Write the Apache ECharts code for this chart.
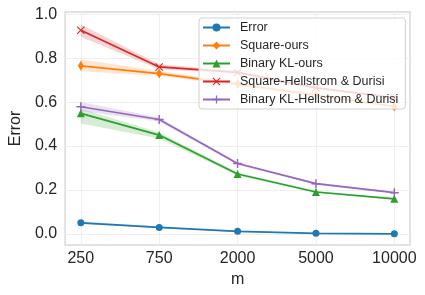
<!DOCTYPE html>
<html><head><meta charset="utf-8">
<script src="https://cdn.jsdelivr.net/npm/echarts@6/dist/echarts.min.js"></script>
<style>html,body{margin:0;padding:0;background:#fff}#c{width:425px;height:295px}</style>
</head><body><div id="c"></div>
<script>
const categories = ['250', '750', '2000', '5000', '10000'];
const yTicks = [0, 0.2, 0.4, 0.6, 0.8, 1.0];
const seriesNames = ['Error', 'Square-ours', 'Binary KL-ours', 'Square-Hellstrom & Durisi', 'Binary KL-Hellstrom & Durisi'];
const errorMean = [0.051, 0.030, 0.012, 0.003, 0.001];
const errorLow  = [0.045, 0.026, 0.009, 0.001, 0.000];
const errorHigh = [0.057, 0.034, 0.015, 0.005, 0.003];
const sqOursMean = [0.765, 0.730, 0.682, 0.632, 0.580];
const sqOursLow  = [0.741, 0.719, 0.674, 0.626, 0.575];
const sqOursHigh = [0.794, 0.742, 0.690, 0.638, 0.585];
const klOursMean = [0.549, 0.450, 0.273, 0.191, 0.160];
const klOursLow  = [0.503, 0.435, 0.266, 0.186, 0.156];
const klOursHigh = [0.570, 0.462, 0.280, 0.196, 0.164];
const sqHDMean = [0.927, 0.760, 0.735, 0.665, 0.620];
const sqHDLow  = [0.897, 0.750, 0.728, 0.660, 0.615];
const sqHDHigh = [0.953, 0.772, 0.742, 0.670, 0.625];
const klHDMean = [0.579, 0.521, 0.321, 0.229, 0.188];
const klHDLow  = [0.560, 0.512, 0.315, 0.224, 0.184];
const klHDHigh = [0.601, 0.530, 0.327, 0.234, 0.192];

const colors = ['#1f77b4', '#ff7f0e', '#2ca02c', '#d62728', '#9467bd'];
const X_PATH = 'path://M0,1L1,0L5,4L9,0L10,1L6,5L10,9L9,10L5,6L1,10L0,9L4,5Z';
const PLUS_PATH = 'path://M4.2,0L5.8,0L5.8,4.2L10,4.2L10,5.8L5.8,5.8L5.8,10L4.2,10L4.2,5.8L0,5.8L0,4.2L4.2,4.2Z';
const symbols = ['circle', 'diamond', 'triangle', X_PATH, PLUS_PATH];
const symbolSizes = [7, [6, 10], 8, 8, 9];
const means = [errorMean, sqOursMean, klOursMean, sqHDMean, klHDMean];
const lows = [errorLow, sqOursLow, klOursLow, sqHDLow, klHDLow];
const highs = [errorHigh, sqOursHigh, klOursHigh, sqHDHigh, klHDHigh];

function hexA(h, a) {
  const r = parseInt(h.slice(1, 3), 16), g = parseInt(h.slice(3, 5), 16), b = parseInt(h.slice(5, 7), 16);
  return `rgba(${r},${g},${b},${a})`;
}

const series = [];
for (let i = 0; i < 5; i++) {
  const lo = lows[i], hi = highs[i], col = colors[i];
  series.push({
    name: 'band' + i, type: 'custom', silent: true, z: 1,
    data: lo.map((v, k) => [k, v, hi[k]]),
    encode: { x: 0, y: [1, 2] },
    renderItem: function (params, api) {
      if (params.dataIndex !== 0) return null;
      const pts = [];
      for (let k = 0; k < lo.length; k++) pts.push(api.coord([k, hi[k]]));
      for (let k = lo.length - 1; k >= 0; k--) pts.push(api.coord([k, lo[k]]));
      return { type: 'polygon', shape: { points: pts }, style: { fill: hexA(col, 0.2) } };
    }
  });
}
for (let i = 0; i < 5; i++) {
  series.push({
    name: seriesNames[i], type: 'line',
    data: means[i].map((v, k) => [k, v]),
    symbol: symbols[i], symbolSize: symbolSizes[i],
    showAllSymbol: true,
    itemStyle: { color: colors[i] },
    lineStyle: { color: colors[i], width: 1.7 },
    z: 3
  });
}

const chart = echarts.init(document.getElementById('c'), null, { renderer: 'canvas' });
chart.setOption({
  animation: false,
  backgroundColor: '#fff',
  grid: { left: 58, right: 15, top: 12, bottom: 50, show: true, borderColor: '#d9d9d9', borderWidth: 1.5 },
  legend: {
    data: seriesNames,
    orient: 'vertical', left: 199, top: 18,
    padding: [3, 7, 3, 3],
    itemGap: 5, itemWidth: 27, itemHeight: 10,
    borderColor: '#d0d0d0', borderWidth: 1, borderRadius: 3,
    backgroundColor: 'rgba(255,255,255,0.8)',
    textStyle: { fontFamily: 'Liberation Sans', fontSize: 12.5, color: '#262626', padding: [0, 0, 0, 5] }
  },
  xAxis: {
    type: 'value', min: -0.2, max: 4.2,
    name: 'm', nameLocation: 'middle', nameGap: 24,
    nameTextStyle: { fontFamily: 'Liberation Sans', fontSize: 16, color: '#262626' },
    axisLine: { show: false }, axisTick: { show: false, customValues: [0, 1, 2, 3, 4] },
    axisLabel: { customValues: [0, 1, 2, 3, 4], formatter: v => categories[Math.round(v)], fontFamily: 'Liberation Sans', fontSize: 16, color: '#262626', margin: 6 },
    splitLine: { show: true, lineStyle: { color: '#efefef', width: 1 } }
  },
  yAxis: {
    type: 'value', min: -0.05, max: 1.01,
    name: 'Error', nameLocation: 'middle', nameGap: 39,
    nameTextStyle: { fontFamily: 'Liberation Sans', fontSize: 16, color: '#262626' },
    axisLine: { show: false }, axisTick: { show: false, customValues: yTicks },
    axisLabel: { customValues: yTicks, formatter: v => v.toFixed(1), fontFamily: 'Liberation Sans', fontSize: 16, color: '#262626', margin: 8 },
    splitLine: { show: true, lineStyle: { color: '#efefef', width: 1 } }
  },
  series: series
});
</script></body></html>
